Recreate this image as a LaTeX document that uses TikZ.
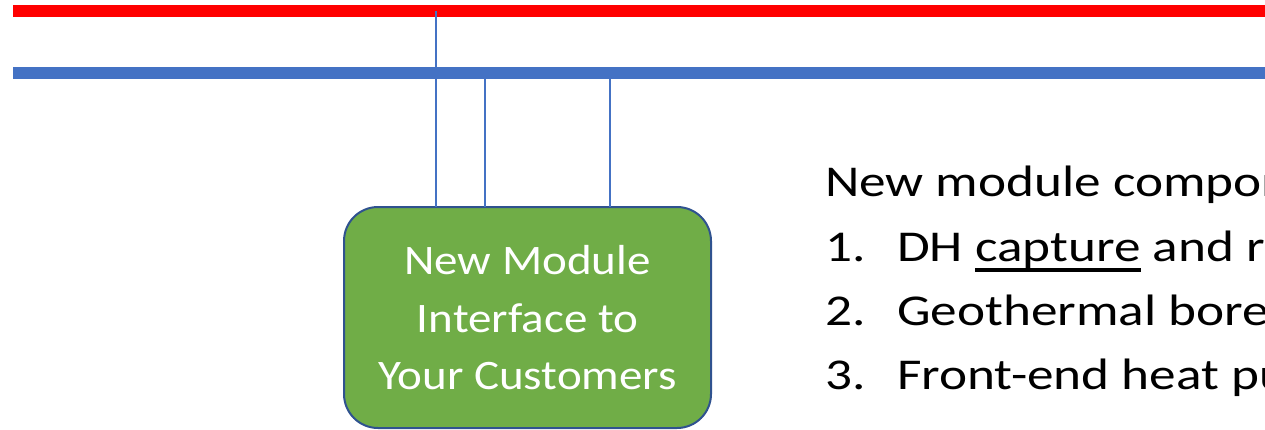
\documentclass[tikz,border=0pt]{standalone}
\usepackage{fontspec}
\setmainfont{Carlito}
\newfontfamily\listfont[FakeStretch=1.21]{Carlito}
\newfontfamily\boxfont[FakeStretch=1.12]{Carlito}
\newcommand\myuline[1]{\setbox0\hbox{#1}\rlap{\raisebox{-10.5pt}{\rule{\wd0}{3.5pt}}}\box0\relax}
\definecolor{hotred}{HTML}{FF0000}
\definecolor{pipeblue}{HTML}{4472C4}
\definecolor{boxgreen}{HTML}{70AD47}
\definecolor{boxedge}{HTML}{2F528F}
\tikzset{
  hotpipe/.style={draw=hotred, line width=11.5pt},
  coldpipe/.style={draw=pipeblue, line width=12pt},
  branch/.style={draw=pipeblue, line width=2pt},
  modulebox/.style={draw=boxedge, line width=2pt, fill=boxgreen, rounded corners=34pt},
  boxtext/.style={text=white, font=\boxfont\fontsize{42}{57.5}\selectfont, align=center},
  listtext/.style={text=black, font=\listfont\fontsize{44}{64.5}\selectfont, anchor=base west, inner sep=0pt}
}
\begin{document}
\begin{tikzpicture}[x=1pt,y=-1pt]
\useasboundingbox (0,0) rectangle (1265,429);
\clip (0,0) rectangle (1265,429);
% pipes
\coordinate (redL) at (13,11);
\coordinate (redR) at (1275,11);
\coordinate (bluL) at (13,72.5);
\coordinate (bluR) at (1275,72.5);
\draw[hotpipe] (redL) -- (redR);
\draw[coldpipe] (bluL) -- (bluR);
% module box
\draw[modulebox] (344,207) rectangle (711,428);
\node[boxtext] (module) at (527.5,318) {New Module\\Interface to\\Your Customers};
% branch lines
\coordinate (b1top) at (436,11);
\coordinate (b1bot) at (436,207);
\coordinate (b2top) at (485,72.5);
\coordinate (b2bot) at (485,207);
\coordinate (b3top) at (610,72.5);
\coordinate (b3bot) at (610,207);
\draw[branch] (b1top) -- (b1bot);
\draw[branch] (b2top) -- (b2bot);
\draw[branch] (b3top) -- (b3bot);
% list text
\node[listtext] (head) at (825,196) {New module components:};
\node[listtext] (n1) at (825,261) {1.};
\node[listtext] (t1) at (897,261) {DH \myuline{capture} and return};
\node[listtext] (n2) at (825,325) {2.};
\node[listtext] (t2) at (897,325) {Geothermal boreholes};
\node[listtext] (n3) at (825,389) {3.};
\node[listtext] (t3) at (897,389) {Front-end heat pumps};
\end{tikzpicture}
\end{document}
